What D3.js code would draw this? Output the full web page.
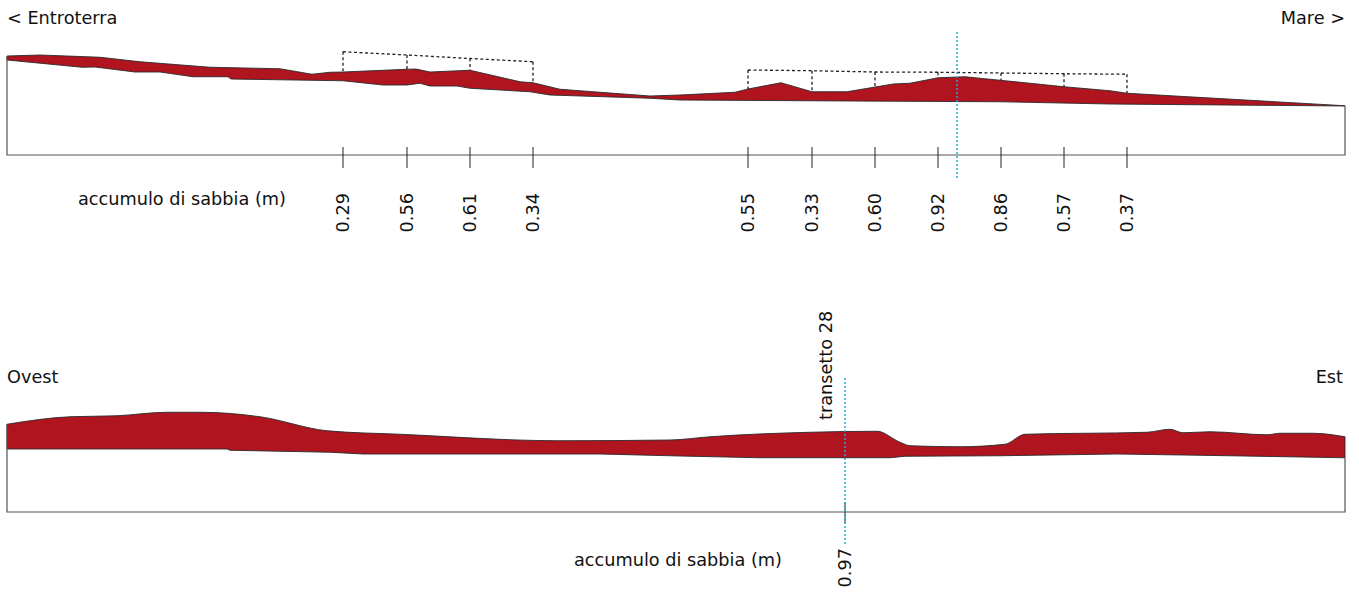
<!DOCTYPE html>
<html><head><meta charset="utf-8">
<script src="https://cdn.jsdelivr.net/npm/d3@7"></script>
<style>
html,body{margin:0;padding:0;background:#fff;}
svg text{font-family:"DejaVu Sans",sans-serif;font-size:17.7px;fill:#111;}
</style></head>
<body><svg id="c" width="1359" height="596"></svg>
<script>
// ---- Top profile (cross-shore): distance (m), elevation (m)
const topSurfaceD = [0,16.5,46.5,66.5,101.5,136.5,152.5,161.5,168,200,204.5,211.5,231.5,256.5,263,276.5,321.5,336.5,364,370.5,387,402.5,420,443,451.5,465.5,479,496.5,511.5,528.5,551.5,560,669];
const topSurfaceE = [3.96,4.00,3.91,3.73,3.51,3.45,3.23,3.31,3.32,3.43,3.44,3.32,3.39,2.93,2.89,2.63,2.36,2.40,2.51,2.64,2.89,2.53,2.53,2.84,2.87,3.09,3.13,2.99,2.87,2.73,2.57,2.47,1.97];
const topBaseD = [0,37.5,44,64,76.5,93,110.5,112,151.5,168,188,200,206.5,211.5,225,231.5,261.5,271.5,321.5,336.5,421.5,496.5,551.5,669];
const topBaseE = [3.80,3.51,3.52,3.32,3.32,3.13,3.13,3.04,2.99,2.97,2.80,2.80,2.87,2.76,2.76,2.67,2.53,2.40,2.27,2.20,2.16,2.13,2.04,1.96];
// measurement points and sand accumulation (m)
const measureD = [168,200,231.5,263,370.5,402.5,434,465.5,497,528.5,560];
const measureAcc = ["0.29","0.56","0.61","0.34","0.55","0.33","0.60","0.92","0.86","0.57","0.37"];
const bracketTop = [4.13,4.00,3.86,3.73,3.40,3.37,3.32,3.31,3.28,3.25,3.23];
const bracketGroup = [0,0,0,0,1,1,1,1,1,1,1];
const topMarkerD = 475;

// ---- Bottom profile (long-shore)
const botSurfaceD = [0,31.5,55,80,96.5,126.5,160,196.5,276.5,331.5,351.5,401.5,435,446.5,451.5,476.5,499,509,570,581.5,588,601.5,630,636.5,653,669];
const botSurfaceE = [3.51,3.81,3.85,3.99,3.99,3.81,3.25,3.11,2.85,2.88,3.01,3.19,3.23,2.79,2.65,2.61,2.71,3.11,3.19,3.31,3.17,3.21,3.09,3.15,3.15,3.01];
const botBaseD = [0,110,111.5,161.5,178,296.5,336.5,376.5,441.5,449,496.5,555,596.5,669];
const botBaseE = [2.52,2.52,2.47,2.39,2.32,2.32,2.24,2.17,2.17,2.23,2.25,2.32,2.27,2.17];
const transectD = [419];
const transectAcc = ["0.97"];
const transectName = "transetto 28";

const labels = {topLeft:"< Entroterra", topRight:"Mare >", botLeft:"Ovest", botRight:"Est", acc:"accumulo di sabbia (m)"};

const RED = "#b0141f", BLUE = "#1fa6e3";
const svg = d3.select("#c");
const x = d3.scaleLinear().domain([0,669]).range([7,1345]);
const yT = d3.scaleLinear().domain([0,4]).range([155,55]);
const yB = d3.scaleLinear().domain([0,4]).range([512,412]);

function interp(ds, es, d){
  for(let i=1;i<ds.length;i++){ if(d<=ds[i]){ const t=(d-ds[i-1])/(ds[i]-ds[i-1]); return es[i-1]+t*(es[i]-es[i-1]); } }
  return es[es.length-1];
}

function profile(y, sD, sE, bD, bE, curve){
  const g = svg.append("g");
  const sPts = sD.map((d,i)=>[d,sE[i]]);
  const bPts = bD.map((d,i)=>[d,bE[i]]).reverse();
  const sLine = d3.line().x(p=>x(p[0])).y(p=>y(p[1])).curve(curve);
  const line = d3.line().x(p=>x(p[0])).y(p=>y(p[1]));
  const dPath = sLine(sPts) + "L" + line(bPts).slice(1) + "Z";
  g.append("path").attr("d", dPath).attr("fill",RED).attr("stroke","#2a2a2a").attr("stroke-width",0.9).attr("stroke-linejoin","round");
  // frame
  const fr = [[sD[0], sE[0]],[0,0],[669,0],[669,bE[bE.length-1]]];
  g.append("path").attr("d", line(fr)).attr("fill","none").attr("stroke","#555").attr("stroke-width",1.2);
  return g;
}

// ---------- TOP ----------
profile(yT, topSurfaceD, topSurfaceE, topBaseD, topBaseE, d3.curveLinear);
// brackets (dashed)
[0,1].forEach(gi=>{
  const idx = measureD.map((d,i)=>i).filter(i=>bracketGroup[i]===gi);
  const topLine = d3.line().x(i=>x(measureD[i])).y(i=>yT(bracketTop[i]));
  svg.append("path").attr("d", topLine(idx)).attr("fill","none").attr("stroke","#222").attr("stroke-width",1.3).attr("stroke-dasharray","3,2.5");
  idx.forEach(i=>{
    svg.append("line").attr("x1",x(measureD[i])).attr("x2",x(measureD[i]))
      .attr("y1",yT(bracketTop[i])).attr("y2",yT(interp(topSurfaceD,topSurfaceE,measureD[i])))
      .attr("stroke","#222").attr("stroke-width",1.3).attr("stroke-dasharray","3,2.5");
  });
});
// ticks + labels
measureD.forEach((d,i)=>{
  svg.append("line").attr("x1",x(d)).attr("x2",x(d)).attr("y1",yT(0)-8).attr("y2",yT(0)+13).attr("stroke","#222").attr("stroke-width",1);
  svg.append("text").attr("transform",`translate(${x(d)},${yT(0)+38}) rotate(-90)`).attr("text-anchor","end").attr("dy","0.36em").text(measureAcc[i]);
});
svg.append("line").attr("x1",x(topMarkerD)).attr("x2",x(topMarkerD)).attr("y1",32).attr("y2",178).attr("stroke",BLUE).attr("stroke-width",1.5).attr("stroke-dasharray","2,2");
svg.append("text").attr("x",7).attr("y",24).text(labels.topLeft);
svg.append("text").attr("x",1345).attr("y",24).attr("text-anchor","end").text(labels.topRight);
svg.append("text").attr("x",78).attr("y",205).text(labels.acc);

// ---------- BOTTOM ----------
profile(yB, botSurfaceD, botSurfaceE, botBaseD, botBaseE, d3.curveMonotoneX);
transectD.forEach((d,i)=>{
  svg.append("line").attr("x1",x(d)).attr("x2",x(d)).attr("y1",yB(0)-10).attr("y2",yB(0)+11).attr("stroke","#222").attr("stroke-width",1);
  svg.append("line").attr("x1",x(d)).attr("x2",x(d)).attr("y1",378).attr("y2",545).attr("stroke",BLUE).attr("stroke-width",1.5).attr("stroke-dasharray","2,2");
  svg.append("text").attr("transform",`translate(${x(d)},${yB(0)+36}) rotate(-90)`).attr("text-anchor","end").attr("dy","0.36em").text(transectAcc[i]);
  svg.append("text").attr("transform",`translate(${x(d)-19},420) rotate(-90)`).attr("text-anchor","start").attr("dy","0.36em").text(transectName);
});
svg.append("text").attr("x",7).attr("y",383).text(labels.botLeft);
svg.append("text").attr("x",1343).attr("y",383).attr("text-anchor","end").text(labels.botRight);
svg.append("text").attr("x",574).attr("y",566).text(labels.acc);
</script></body></html>
